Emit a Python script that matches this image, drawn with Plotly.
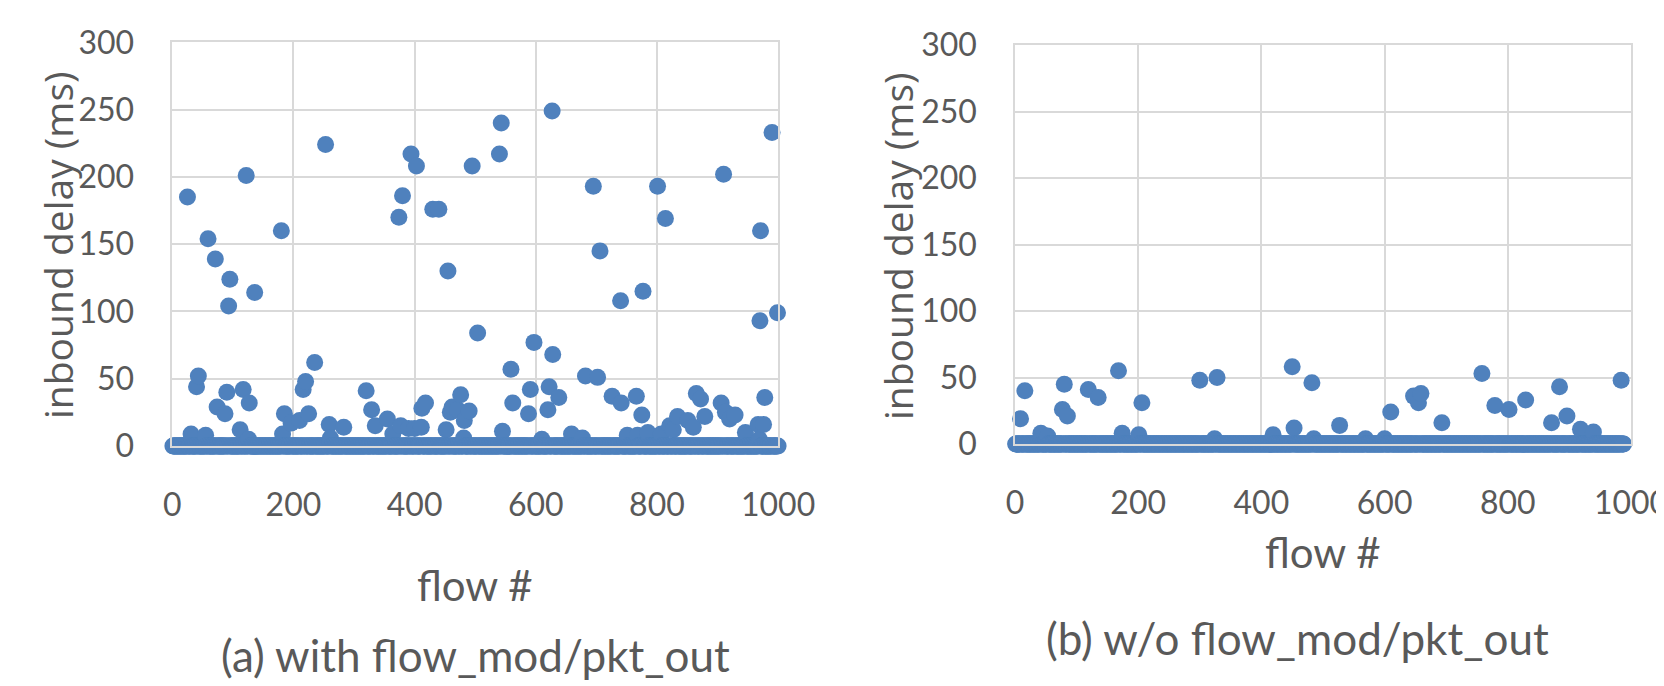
import plotly.graph_objects as go

# ---- data: panel (a) with flow_mod/pkt_out : outlier flows (others ~0 ms) ----
a_flow = [25, 31, 40, 43, 55, 59, 71, 74, 87, 90, 93, 95, 112, 117, 122, 126, 127, 136,
          180, 182, 185, 196, 210, 216, 220, 225, 235, 253, 259, 261, 283, 320, 329, 335,
          355, 364, 374, 377, 380, 390, 394, 400, 403, 411, 412, 418, 430, 440, 452, 455,
          459, 462, 471, 476, 481, 482, 490, 495, 504, 540, 543, 545, 559, 562, 588, 591,
          597, 610, 620, 622, 627, 628, 638, 659, 677, 682, 695, 702, 706, 726, 740, 741,
          751, 766, 768, 775, 777, 785, 801, 807, 814, 821, 827, 834, 851, 860, 865, 872,
          879, 906, 910, 913, 920, 929, 946, 967, 969, 970, 971, 976, 978, 990, 999]
a_delay = [185, 9, 44, 52, 8, 154, 139, 29, 24, 40, 104, 124, 12, 42, 201, 5, 32, 114,
           160, 9, 24, 17, 19, 42, 48, 24, 62, 224, 16, 6, 14, 41, 27, 15,
           20, 9, 170, 15, 186, 13, 217, 13, 208, 14, 28, 32, 176, 176, 12, 130,
           25, 29, 27, 38, 6, 19, 26, 208, 84, 217, 240, 11, 57, 32, 24, 42,
           77, 5, 27, 44, 249, 68, 36, 9, 6, 52, 193, 51, 145, 37, 108, 32,
           8, 37, 8, 23, 115, 10, 193, 9, 169, 15, 12, 22, 19, 14, 39, 35,
           22, 32, 202, 25, 20, 23, 10, 16, 5, 93, 160, 16, 36, 233, 99]

# ---- data: panel (b) w/o flow_mod/pkt_out : outlier flows (others ~0 ms) ----
b_flow = [9, 16, 42, 53, 77, 80, 85, 119, 135, 168, 174, 201, 206, 300, 324, 328, 419,
          450, 453, 482, 485, 527, 569, 600, 610, 647, 655, 659, 693, 758, 779, 802, 829,
          871, 884, 896, 918, 939, 984]
b_delay = [19, 40, 8, 6, 26, 45, 21, 41, 35, 55, 8, 7, 31, 48, 4, 50, 7,
           58, 12, 46, 4, 14, 4, 4, 24, 36, 31, 38, 16, 53, 29, 26, 33,
           16, 43, 21, 11, 9, 48]

n_flows_a = 1000
n_flows_b = 988

x_ticks = [0, 200, 400, 600, 800, 1000]
y_ticks = [0, 50, 100, 150, 200, 250, 300]


def full_series(n, flows, delays):
    lookup = dict(zip(flows, delays))
    xs = list(range(1, n + 1))
    ys = [lookup.get(i, 0) for i in xs]
    return xs, ys


ax, ay = full_series(n_flows_a, a_flow, a_delay)
bx, by = full_series(n_flows_b, b_flow, b_delay)

BLUE = "#4F81BD"
GRID = "#D9D9D9"
TXT = "#595959"
OFF = 8                      # default page body margin
W, H = 1664 - OFF, 686 - OFF


def px(x):
    return (x - OFF) / W


def py(y):
    return 1 - (y - OFF) / H


fig = go.Figure()
fig.add_trace(go.Scatter(x=ax, y=ay, mode="markers", cliponaxis=False,
                         marker=dict(size=17, color=BLUE), xaxis="x", yaxis="y",
                         showlegend=False))
fig.add_trace(go.Scatter(x=bx, y=by, mode="markers", cliponaxis=False,
                         marker=dict(size=17, color=BLUE), xaxis="x2", yaxis="y2",
                         showlegend=False))

common = dict(showgrid=True, gridcolor=GRID, gridwidth=1.5,
              zeroline=False, showline=True, mirror=True, linecolor=GRID, linewidth=1.5,
              ticks="outside", ticklen=30, tickcolor="rgba(0,0,0,0)", automargin=False,
              ticklabeloverflow="allow",
              tickfont=dict(family="Lato", size=32, color=TXT), fixedrange=True)
xcommon = dict(common, range=[0, 1000], tickvals=x_ticks)
ycommon = dict(common, range=[0, 300], tickvals=y_ticks)

fig.update_layout(
    width=W, height=H,
    margin=dict(l=0, r=0, t=0, b=0, autoexpand=False),
    paper_bgcolor="white", plot_bgcolor="white",
    xaxis=dict(xcommon, domain=[px(172.3), px(778.1)], anchor="y"),
    yaxis=dict(ycommon, domain=[py(446), py(42.3)], anchor="x"),
    xaxis2=dict(xcommon, domain=[px(1015), px(1631)], anchor="y2"),
    yaxis2=dict(ycommon, domain=[py(444), py(45)], anchor="x2"),
)

ann = [
    dict(text="inbound delay (ms)", x=px(57), y=py(245), textangle=-90,
         font=dict(family="Open Sans", size=39, color=TXT)),
    dict(text="inbound delay (ms)", x=px(898), y=py(246), textangle=-90,
         font=dict(family="Open Sans", size=39, color=TXT)),
    dict(text="flow #", x=px(475), y=py(585), font=dict(family="Lato", size=42, color=TXT)),
    dict(text="flow #", x=px(1323), y=py(552), font=dict(family="Lato", size=42, color=TXT)),
    dict(text="(a) with flow_mod/pkt_out", x=px(476), y=py(655),
         font=dict(family="Lato", size=44, color=TXT)),
    dict(text="(b) w/o flow_mod/pkt_out", x=px(1297), y=py(638),
         font=dict(family="Lato", size=44, color=TXT)),
]
for a in ann:
    a.update(xref="paper", yref="paper", showarrow=False, xanchor="center", yanchor="middle")
fig.update_layout(annotations=ann)

fig.write_html("out.html")
